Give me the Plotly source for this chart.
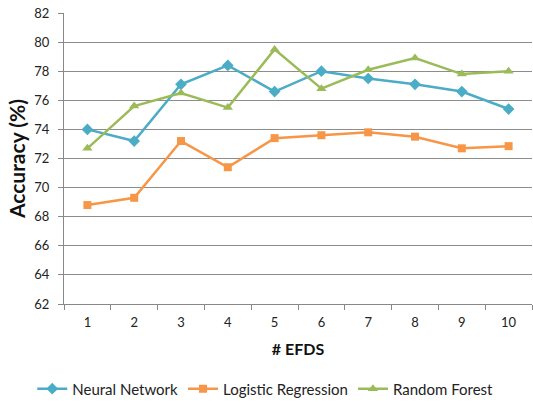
import plotly.graph_objects as go

efds = [1, 2, 3, 4, 5, 6, 7, 8, 9, 10]
neural_network = [74.0, 73.2, 77.1, 78.4, 76.6, 78.0, 77.5, 77.1, 76.6, 75.4]
logistic_regression = [68.8, 69.3, 73.2, 71.4, 73.4, 73.6, 73.8, 73.5, 72.7, 72.85]
random_forest = [72.7, 75.6, 76.5, 75.5, 79.5, 76.8, 78.1, 78.9, 77.8, 78.0]
y_ticks = [62, 64, 66, 68, 70, 72, 74, 76, 78, 80, 82]

font = "Lato, 'Open Sans', sans-serif"

fig = go.Figure()
fig.add_trace(go.Scatter(x=efds, y=neural_network, name="Neural Network", mode="lines+markers",
                         line=dict(color="#4BACC6", width=2.5),
                         marker=dict(symbol="diamond", size=9, color="#4BACC6")))
fig.add_trace(go.Scatter(x=efds, y=logistic_regression, name="Logistic Regression", mode="lines+markers",
                         line=dict(color="#F79646", width=2.5),
                         marker=dict(symbol="square", size=8, color="#F79646")))
fig.add_trace(go.Scatter(x=efds, y=random_forest, name="Random Forest", mode="lines+markers",
                         line=dict(color="#9BBB59", width=2.5),
                         marker=dict(symbol="triangle-up", size=9, color="#9BBB59")))

fig.update_layout(
    width=533, height=403,
    margin=dict(l=64, r=1, t=13, b=99, autoexpand=False),
    paper_bgcolor="white", plot_bgcolor="white",
    font=dict(family=font, size=13, color="#222"),
    showlegend=True,
    legend=dict(orientation="h", x=0.43, xanchor="center", y=-0.292, yanchor="middle",
                font=dict(size=15, color="#222"), itemwidth=30, tracegroupgap=0),
    xaxis=dict(range=[0.5, 10.5], tickvals=efds, ticktext=[str(v) for v in efds],
               ticks="", showgrid=False, zeroline=False, automargin=False,
               showline=True, linecolor="#888", linewidth=1,
               tickfont=dict(size=13, color="#222"), ticklabelstandoff=6,
               minor=dict(tickvals=[i + 0.5 for i in range(0, 11)], ticks="outside",
                          ticklen=5, tickcolor="#888", showgrid=False),
               title=dict(text="<b># EFDS</b>", font=dict(size=16, color="#111"))),
    yaxis=dict(range=[62, 82], tickvals=y_ticks, ticks="outside", ticklen=5, tickcolor="#888",
               showgrid=True, gridcolor="#8c8c8c", gridwidth=1, zeroline=False, automargin=False,
               showline=True, linecolor="#888", linewidth=1,
               tickfont=dict(size=13, color="#222"), ticklabelstandoff=6,
               title=dict(text="<b>Accuracy (%)</b>", font=dict(size=21, color="#111"), standoff=2)),
)

fig.write_html("out.html", config={"displayModeBar": False},
               post_script="document.body.style.margin='0';document.body.style.overflow='hidden';")
